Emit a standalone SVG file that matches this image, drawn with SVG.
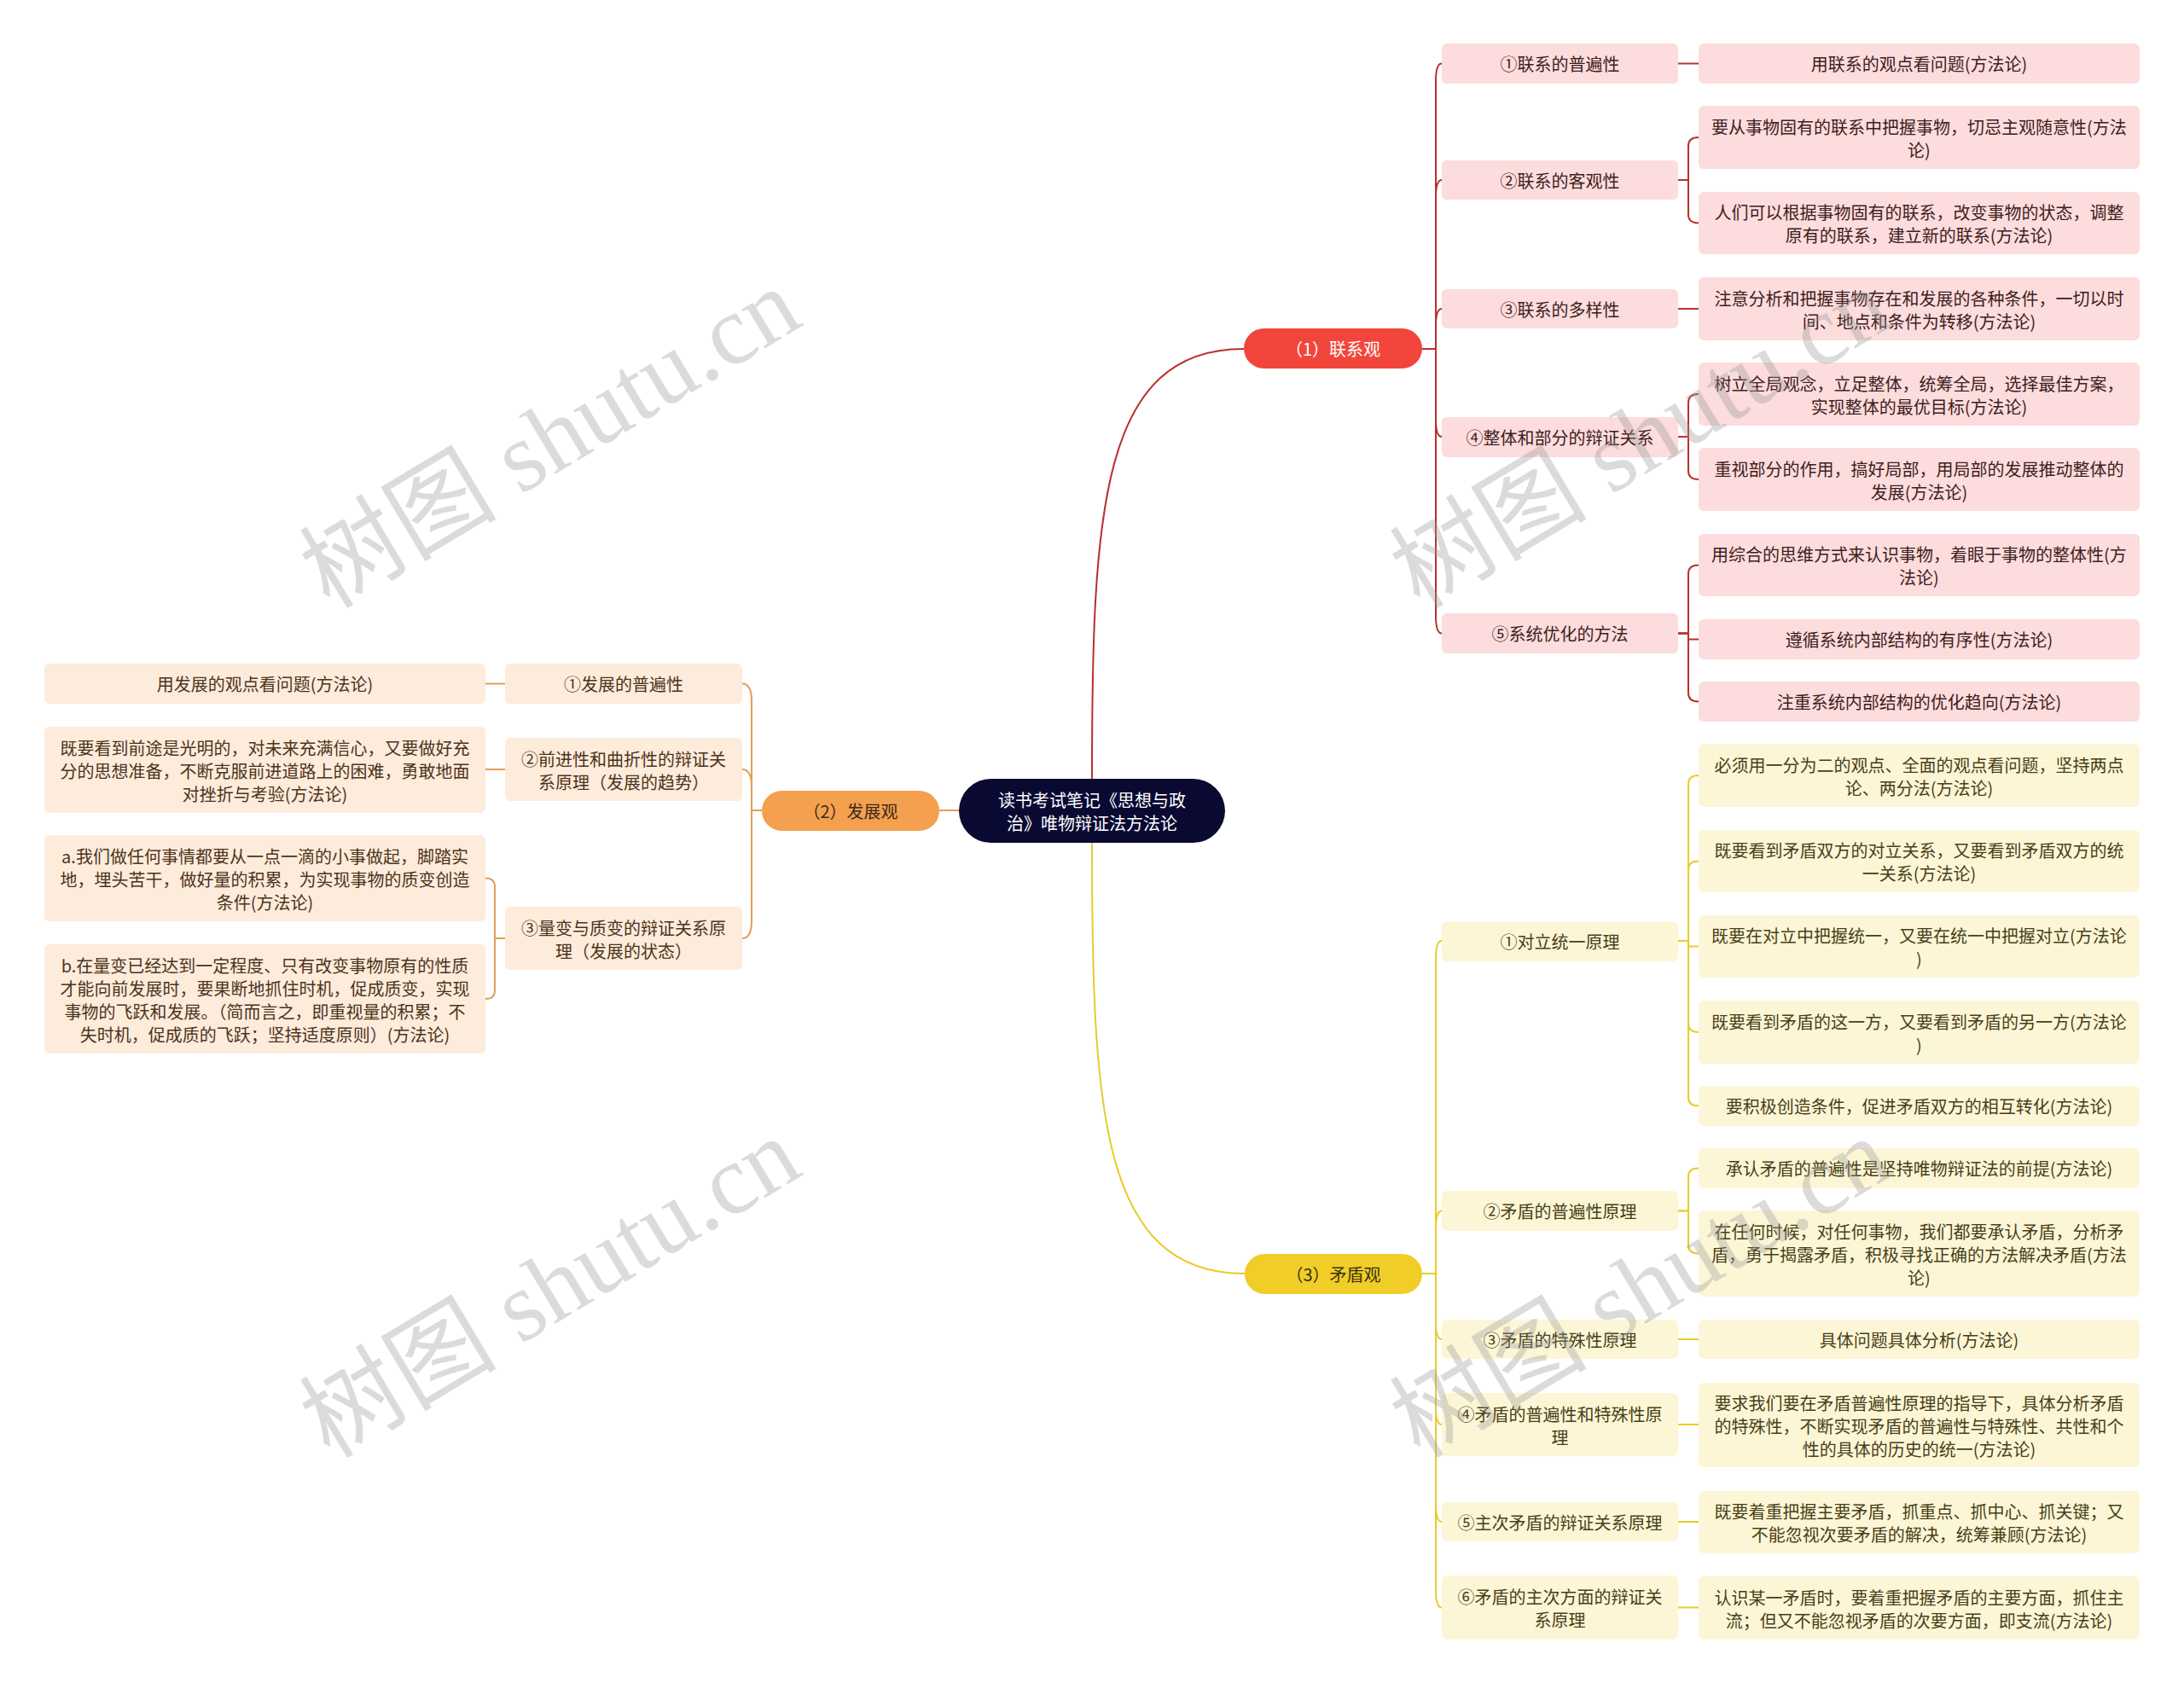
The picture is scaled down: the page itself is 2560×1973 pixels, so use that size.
<svg xmlns="http://www.w3.org/2000/svg" width="2560" height="1973" viewBox="0 0 2560 1973">
<style>
text{font-family:"Noto Sans CJK SC","Noto Sans",sans-serif;font-size:20px;text-anchor:middle;dominant-baseline:central}
.root rect{fill:#090932}
.root text{fill:#fff;font-size:20px}
.b1 rect{fill:#f2463c}
.b1 text{fill:#fff}
.b2 rect{fill:#f4a04e}
.b2 text{fill:#3a2a1a}
.b3 rect{fill:#f0cd27}
.b3 text{fill:#3a3310}
.r rect{fill:#fcdcdc}
.r text{fill:#3e2020}
.o rect{fill:#fdebdc}
.o text{fill:#4d3319}
.y rect{fill:#fdf6d6}
.y text{fill:#473f17}
.cr{fill:none;stroke:#b8312b;stroke-width:2}
.co{fill:none;stroke:#e29f59;stroke-width:2}
.cy{fill:none;stroke:#e8cb2a;stroke-width:2}
.wm{font-family:"Liberation Serif","Noto Sans CJK SC",serif;font-size:116px;fill:#9a9a9a;opacity:0.35}
</style>
<rect width="2560" height="1973" fill="#fff"/>
<g id="connectors">
<path class="cr" d="M1280 913 C1280 600 1290 409 1458 409"/>
<path class="co" d="M1124 950 H1101"/>
<path class="cy" d="M1280 988 C1280 1300 1290 1493 1459 1493"/>
<path class="cr" d="M1667 409 H1683 V95 Q1683 74.5 1690 74.5"/>
<path class="cr" d="M1667 409 H1683 V231 Q1683 211 1690 211"/>
<path class="cr" d="M1667 409 H1683 V382 Q1683 362 1690 362"/>
<path class="cr" d="M1667 409 H1683 V492 Q1683 512 1690 512"/>
<path class="cr" d="M1667 409 H1683 V722 Q1683 742.5 1690 742.5"/>
<path class="cr" d="M1967 74.5 H1991"/>
<path class="cr" d="M1967 211 H1979 V171 Q1979 161 1991 161"/>
<path class="cr" d="M1967 211 H1979 V251.5 Q1979 261.5 1991 261.5"/>
<path class="cr" d="M1967 362 H1991"/>
<path class="cr" d="M1967 512 H1979 V472 Q1979 462 1991 462"/>
<path class="cr" d="M1967 512 H1979 V552 Q1979 562 1991 562"/>
<path class="cr" d="M1967 742.5 H1979 V672.5 Q1979 662.5 1991 662.5"/>
<path class="cr" d="M1967 742.5 H1979 V749.5 H1991"/>
<path class="cr" d="M1967 742.5 H1979 V812.5 Q1979 822.5 1991 822.5"/>
<path class="co" d="M893 950 H881 V821.5 Q881 801.5 870 801.5"/>
<path class="co" d="M893 950 H881 V922 Q881 902 870 902"/>
<path class="co" d="M893 950 H881 V1080 Q881 1100 870 1100"/>
<path class="co" d="M592 801.5 H569"/>
<path class="co" d="M592 902 H569"/>
<path class="co" d="M592 1100 H580 V1039.5 Q580 1029.5 569 1029.5"/>
<path class="co" d="M592 1100 H580 V1161 Q580 1171 569 1171"/>
<path class="cy" d="M1667 1493 H1683 V1123 Q1683 1103 1690 1103"/>
<path class="cy" d="M1667 1493 H1683 V1439.5 Q1683 1419.5 1690 1419.5"/>
<path class="cy" d="M1667 1493 H1683 V1550 Q1683 1570 1690 1570"/>
<path class="cy" d="M1667 1493 H1683 V1650 Q1683 1670 1690 1670"/>
<path class="cy" d="M1667 1493 H1683 V1764 Q1683 1784 1690 1784"/>
<path class="cy" d="M1667 1493 H1683 V1864.5 Q1683 1884.5 1690 1884.5"/>
<path class="cy" d="M1967 1103 H1979 V919 Q1979 909 1991 909"/>
<path class="cy" d="M1967 1103 H1979 V1019.5 Q1979 1009.5 1991 1009.5"/>
<path class="cy" d="M1967 1103 H1979 V1109.5 H1991"/>
<path class="cy" d="M1967 1103 H1979 V1200 Q1979 1210 1991 1210"/>
<path class="cy" d="M1967 1103 H1979 V1286.5 Q1979 1296.5 1991 1296.5"/>
<path class="cy" d="M1967 1419.5 H1979 V1379.5 Q1979 1369.5 1991 1369.5"/>
<path class="cy" d="M1967 1419.5 H1979 V1459.5 Q1979 1469.5 1991 1469.5"/>
<path class="cy" d="M1967 1570 H1991"/>
<path class="cy" d="M1967 1670 H1991"/>
<path class="cy" d="M1967 1784 H1991"/>
<path class="cy" d="M1967 1884.5 H1991"/>
</g>

<g id="root" class="root"><rect x="1124" y="913" width="312" height="75" rx="37.5"/><text x="1280"><tspan x="1280" y="937">读书考试笔记《思想与政</tspan><tspan x="1280" y="964">治》唯物辩证法方法论</tspan></text></g>

<g id="b1" class="b1"><rect x="1458" y="385" width="209" height="47" rx="23.5"/><text x="1562.5" y="408.5">（1）联系观</text></g>
<g id="b2" class="b2"><rect x="893" y="927" width="208" height="47" rx="23.5"/><text x="997" y="950.5">（2）发展观</text></g>
<g id="b3" class="b3"><rect x="1459" y="1470" width="208" height="47" rx="23.5"/><text x="1563" y="1493.5">（3）矛盾观</text></g>

<g id="r1" class="r"><rect x="1690" y="51" width="277" height="47" rx="6"/><text x="1828.5" y="74.5">①联系的普遍性</text></g>
<g id="r2" class="r"><rect x="1690" y="188" width="277" height="46" rx="6"/><text x="1828.5" y="211">②联系的客观性</text></g>
<g id="r3" class="r"><rect x="1690" y="339" width="277" height="46" rx="6"/><text x="1828.5" y="362">③联系的多样性</text></g>
<g id="r4" class="r"><rect x="1690" y="489" width="277" height="47" rx="6"/><text x="1828.5" y="512.5">④整体和部分的辩证关系</text></g>
<g id="r5" class="r"><rect x="1690" y="719" width="277" height="47" rx="6"/><text x="1828.5" y="742.5">⑤系统优化的方法</text></g>

<g id="r1a" class="r"><rect x="1991" y="51" width="517" height="47" rx="6"/><text x="2249.5" y="74.5">用联系的观点看问题(方法论)</text></g>
<g id="r2a" class="r"><rect x="1991" y="124" width="517" height="74" rx="6"/><text x="2249.5"><tspan x="2249.5" y="147.5">要从事物固有的联系中把握事物，切忌主观随意性(方法</tspan><tspan x="2249.5" y="174.5">论)</tspan></text></g>
<g id="r2b" class="r"><rect x="1991" y="225" width="517" height="73" rx="6"/><text x="2249.5"><tspan x="2249.5" y="248">人们可以根据事物固有的联系，改变事物的状态，调整</tspan><tspan x="2249.5" y="275">原有的联系，建立新的联系(方法论)</tspan></text></g>
<g id="r3a" class="r"><rect x="1991" y="325" width="517" height="74" rx="6"/><text x="2249.5"><tspan x="2249.5" y="348.5">注意分析和把握事物存在和发展的各种条件，一切以时</tspan><tspan x="2249.5" y="375.5">间、地点和条件为转移(方法论)</tspan></text></g>
<g id="r4a" class="r"><rect x="1991" y="425" width="517" height="74" rx="6"/><text x="2249.5"><tspan x="2249.5" y="448.5">树立全局观念，立足整体，统筹全局，选择最佳方案，</tspan><tspan x="2249.5" y="475.5">实现整体的最优目标(方法论)</tspan></text></g>
<g id="r4b" class="r"><rect x="1991" y="525" width="517" height="74" rx="6"/><text x="2249.5"><tspan x="2249.5" y="548.5">重视部分的作用，搞好局部，用局部的发展推动整体的</tspan><tspan x="2249.5" y="575.5">发展(方法论)</tspan></text></g>
<g id="r5a" class="r"><rect x="1991" y="626" width="517" height="73" rx="6"/><text x="2249.5"><tspan x="2249.5" y="649">用综合的思维方式来认识事物，着眼于事物的整体性(方</tspan><tspan x="2249.5" y="676">法论)</tspan></text></g>
<g id="r5b" class="r"><rect x="1991" y="726" width="517" height="47" rx="6"/><text x="2249.5" y="749.5">遵循系统内部结构的有序性(方法论)</text></g>
<g id="r5c" class="r"><rect x="1991" y="799" width="517" height="47" rx="6"/><text x="2249.5" y="822.5">注重系统内部结构的优化趋向(方法论)</text></g>

<g id="o1" class="o"><rect x="592" y="778" width="278" height="47" rx="6"/><text x="731" y="801.5">①发展的普遍性</text></g>
<g id="o2" class="o"><rect x="592" y="865" width="278" height="74" rx="6"/><text x="731"><tspan x="731" y="888.5">②前进性和曲折性的辩证关</tspan><tspan x="731" y="915.5">系原理（发展的趋势）</tspan></text></g>
<g id="o3" class="o"><rect x="592" y="1063" width="278" height="74" rx="6"/><text x="731"><tspan x="731" y="1086.5">③量变与质变的辩证关系原</tspan><tspan x="731" y="1113.5">理（发展的状态）</tspan></text></g>

<g id="o1a" class="o"><rect x="52" y="778" width="517" height="47" rx="6"/><text x="310.5" y="801.5">用发展的观点看问题(方法论)</text></g>
<g id="o2a" class="o"><rect x="52" y="852" width="517" height="101" rx="6"/><text x="310.5"><tspan x="310.5" y="875.5">既要看到前途是光明的，对未来充满信心，又要做好充</tspan><tspan x="310.5" y="902.5">分的思想准备，不断克服前进道路上的困难，勇敢地面</tspan><tspan x="310.5" y="929.5">对挫折与考验(方法论)</tspan></text></g>
<g id="o3a" class="o"><rect x="52" y="979" width="517" height="101" rx="6"/><text x="310.5"><tspan x="310.5" y="1002.5">a.我们做任何事情都要从一点一滴的小事做起，脚踏实</tspan><tspan x="310.5" y="1029.5">地，埋头苦干，做好量的积累，为实现事物的质变创造</tspan><tspan x="310.5" y="1056.5">条件(方法论)</tspan></text></g>
<g id="o3b" class="o"><rect x="52" y="1107" width="517" height="128" rx="6"/><text x="310.5"><tspan x="310.5" y="1130.5">b.在量变已经达到一定程度、只有改变事物原有的性质</tspan><tspan x="310.5" y="1157.5">才能向前发展时，要果断地抓住时机，促成质变，实现</tspan><tspan x="310.5" y="1184.5">事物的飞跃和发展。（简而言之，即重视量的积累；不</tspan><tspan x="310.5" y="1211.5">失时机，促成质的飞跃；坚持适度原则）(方法论)</tspan></text></g>

<g id="y1" class="y"><rect x="1690" y="1080" width="277" height="47" rx="6"/><text x="1828.5" y="1103.5">①对立统一原理</text></g>
<g id="y2" class="y"><rect x="1690" y="1396" width="277" height="47" rx="6"/><text x="1828.5" y="1419.5">②矛盾的普遍性原理</text></g>
<g id="y3" class="y"><rect x="1690" y="1547" width="277" height="46" rx="6"/><text x="1828.5" y="1570">③矛盾的特殊性原理</text></g>
<g id="y4" class="y"><rect x="1690" y="1633" width="277" height="74" rx="6"/><text x="1828.5"><tspan x="1828.5" y="1656.5">④矛盾的普遍性和特殊性原</tspan><tspan x="1828.5" y="1683.5">理</tspan></text></g>
<g id="y5" class="y"><rect x="1690" y="1761" width="277" height="46" rx="6"/><text x="1828.5" y="1784">⑤主次矛盾的辩证关系原理</text></g>
<g id="y6" class="y"><rect x="1690" y="1847" width="277" height="75" rx="6"/><text x="1828.5"><tspan x="1828.5" y="1871">⑥矛盾的主次方面的辩证关</tspan><tspan x="1828.5" y="1898">系原理</tspan></text></g>

<g id="y1a" class="y"><rect x="1991" y="872" width="517" height="74" rx="6"/><text x="2249.5"><tspan x="2249.5" y="895.5">必须用一分为二的观点、全面的观点看问题，坚持两点</tspan><tspan x="2249.5" y="922.5">论、两分法(方法论)</tspan></text></g>
<g id="y1b" class="y"><rect x="1991" y="973" width="517" height="73" rx="6"/><text x="2249.5"><tspan x="2249.5" y="996">既要看到矛盾双方的对立关系，又要看到矛盾双方的统</tspan><tspan x="2249.5" y="1023">一关系(方法论)</tspan></text></g>
<g id="y1c" class="y"><rect x="1991" y="1073" width="517" height="73" rx="6"/><text x="2249.5"><tspan x="2249.5" y="1096">既要在对立中把握统一，又要在统一中把握对立(方法论</tspan><tspan x="2249.5" y="1123">)</tspan></text></g>
<g id="y1d" class="y"><rect x="1991" y="1173" width="517" height="74" rx="6"/><text x="2249.5"><tspan x="2249.5" y="1196.5">既要看到矛盾的这一方，又要看到矛盾的另一方(方法论</tspan><tspan x="2249.5" y="1223.5">)</tspan></text></g>
<g id="y1e" class="y"><rect x="1991" y="1273" width="517" height="47" rx="6"/><text x="2249.5" y="1296.5">要积极创造条件，促进矛盾双方的相互转化(方法论)</text></g>
<g id="y2a" class="y"><rect x="1991" y="1346" width="517" height="47" rx="6"/><text x="2249.5" y="1369.5">承认矛盾的普遍性是坚持唯物辩证法的前提(方法论)</text></g>
<g id="y2b" class="y"><rect x="1991" y="1419" width="517" height="101" rx="6"/><text x="2249.5"><tspan x="2249.5" y="1442.5">在任何时候，对任何事物，我们都要承认矛盾，分析矛</tspan><tspan x="2249.5" y="1469.5">盾，勇于揭露矛盾，积极寻找正确的方法解决矛盾(方法</tspan><tspan x="2249.5" y="1496.5">论)</tspan></text></g>
<g id="y3a" class="y"><rect x="1991" y="1547" width="517" height="46" rx="6"/><text x="2249.5" y="1570">具体问题具体分析(方法论)</text></g>
<g id="y4a" class="y"><rect x="1991" y="1621" width="517" height="99" rx="6"/><text x="2249.5"><tspan x="2249.5" y="1643.5">要求我们要在矛盾普遍性原理的指导下，具体分析矛盾</tspan><tspan x="2249.5" y="1670.5">的特殊性，不断实现矛盾的普遍性与特殊性、共性和个</tspan><tspan x="2249.5" y="1697.5">性的具体的历史的统一(方法论)</tspan></text></g>
<g id="y5a" class="y"><rect x="1991" y="1748" width="517" height="73" rx="6"/><text x="2249.5"><tspan x="2249.5" y="1771">既要着重把握主要矛盾，抓重点、抓中心、抓关键；又</tspan><tspan x="2249.5" y="1798">不能忽视次要矛盾的解决，统筹兼顾(方法论)</tspan></text></g>
<g id="y6a" class="y"><rect x="1991" y="1848" width="517" height="74" rx="6"/><text x="2249.5"><tspan x="2249.5" y="1871.5">认识某一矛盾时，要着重把握矛盾的主要方面，抓住主</tspan><tspan x="2249.5" y="1898.5">流；但又不能忽视矛盾的次要方面，即支流(方法论)</tspan></text></g>

<g id="watermarks">
<text class="wm" transform="translate(645 514) rotate(-31)">树图 shutu.cn</text>
<text class="wm" transform="translate(645 1510) rotate(-31)">树图 shutu.cn</text>
<text class="wm" transform="translate(1923 514) rotate(-31)">树图 shutu.cn</text>
<text class="wm" transform="translate(1923 1510) rotate(-31)">树图 shutu.cn</text>
</g>
</svg>
